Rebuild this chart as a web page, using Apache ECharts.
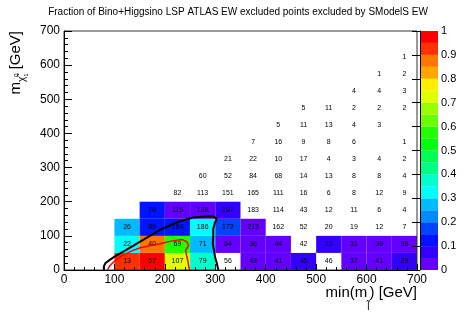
<!DOCTYPE html>
<html><head><meta charset="utf-8">
<script src="https://cdn.jsdelivr.net/npm/echarts@6/dist/echarts.min.js"></script>
<style>html,body{margin:0;padding:0;background:#fff}#c{width:463px;height:314px}</style>
</head><body><div id="c"></div>
<script>
// ---------------- data ----------------
const chartTitle = "Fraction of Bino+Higgsino LSP ATLAS EW excluded points excluded by SModelS EW";
const xBinLow = [100,150,200,250,300,350,400,450,500,550,600,650];
const yBinLow = [0,50,100,150,200,250,300,350,400,450,500,550,600];
const binWidth = 50;
const axisTicks = [0,100,200,300,400,500,600,700];
const zTicks = [0,0.1,0.2,0.3,0.4,0.5,0.6,0.7,0.8,0.9,1];
const zBandEdges = [0,0.05,0.1,0.15,0.2,0.25,0.3,0.35,0.4,0.45,0.5,0.55,0.6,0.65,0.7,0.75,0.8,0.85,0.9,0.95,1];
// number of points per cell (rows = y bins, cols = x bins)
const counts = [
  [13,57,107,79,56,43,41,45,46,37,41,29],
  [22,40,69,71,54,36,44,42,33,31,30,38],
  [26,80,164,186,172,213,162,52,20,19,12,7],
  [null,70,115,138,197,183,114,43,12,11,6,4],
  [null,null,82,113,151,165,111,16,6,8,12,9],
  [null,null,null,60,52,84,68,14,13,8,8,4],
  [null,null,null,null,21,22,10,17,4,3,4,2],
  [null,null,null,null,null,7,16,9,8,6,null,1],
  [null,null,null,null,null,null,5,11,13,4,3,null],
  [null,null,null,null,null,null,null,5,11,2,2,2],
  [null,null,null,null,null,null,null,null,null,4,4,3],
  [null,null,null,null,null,null,null,null,null,null,1,2],
  [null,null,null,null,null,null,null,null,null,null,null,1]
];
// excluded fraction per cell (0 = not drawn)
const fractions = [
  [0.92,0.97,0.72,0.37,0,0.03,0.03,0.07,0,0.03,0.03,0.07],
  [0.32,0.87,0.57,0.27,0.03,0.03,0.03,0,0.07,0.03,0.03,0.03],
  [0.27,0.12,0.12,0.32,0.17,0.03,0,0,0,0,0,0],
  [0,0.12,0.03,0.03,0.07,0,0,0,0,0,0,0]
];
const blackContour = [[79,0],[79,10],[82,20],[90,29],[101,40],[121,57],[151,83],[191,118],[230,143],[256,154],[280,157],[296,157],[303,150],[299,138],[296,120],[296,100],[295,77],[298,52],[300,35],[303,20],[306,0]];
const redContour = [[86,0],[91,13],[101,27],[115,42],[135,56],[151,65],[190,77],[217,86],[235,89],[244,82],[247,72],[241,57],[243,43],[246,25],[247,13],[249,0]];

// ---------------- style ----------------
const palette = ['#6300ff','#3300ff','#0014ff','#0044ff','#008bff','#00bbff','#00fffc','#00ffcc','#00ff85','#00ff55',
                 '#00ff0e','#22ff00','#69ff00','#99ff00','#e0ff00','#ffee00','#ffa700','#ff7700','#ff3000','#ff0000'];
const FONT = "'Liberation Sans', Arial, Helvetica, sans-serif";
function colorFor(v){ let i = Math.floor(v*20); if(i>19)i=19; if(i<0)i=0; return palette[i]; }

const cellData = [];
yBinLow.forEach((y,r)=>{ xBinLow.forEach((x,c)=>{
  const n = counts[r][c];
  const f = (fractions[r] && fractions[r][c]) || 0;
  if (n!=null || f>0) cellData.push([x,y,f,n==null?-1:n]);
});});
const bandData = palette.map((col,i)=>[zBandEdges[i], zBandEdges[i+1], i]);

const ctx = document.createElement('canvas').getContext('2d');
function tw(t,size){ ctx.font = size+'px '+FONT; return ctx.measureText(t).width; }

// x title pieces
const xt1 = 'min(m', xts = 'l\u0303', xt2 = ') [GeV]';
const xTitleRight = 417;
const wx1 = tw(xt1,15), wxs = tw(xts,10), wx2 = tw(xt2,15);
const xStart = xTitleRight - (wx1+wxs+wx2);
// y title pieces (rotated)
const yt1 = 'm', yts = '\u03C7\u0303', yt2 = ' [GeV]';
const wy1 = tw(yt1,15), wys = tw(yts,10), wyi = tw('0',6), wy2 = tw(yt2,15);
const yTotal = wy1+wys+wyi+wy2;

const chart = echarts.init(document.getElementById('c'));
chart.setOption({
  animation:false,
  backgroundColor:'#fff',
  grid:[
    {left:64, top:31, right:46, bottom:44, show:true, borderColor:'#333', borderWidth:1, backgroundColor:'transparent', z:10},
    {left:420, top:31, width:18, bottom:44, show:false}
  ],
  xAxis:[
    {type:'value', gridIndex:0, min:axisTicks[0], max:axisTicks[axisTicks.length-1], interval:100, z:10,
     axisLine:{show:true, lineStyle:{color:'#000'}},
     axisTick:{show:true, inside:true, length:6, lineStyle:{color:'#000'}},
     minorTick:{show:true, splitNumber:5, length:3, lineStyle:{color:'#000'}},
     splitLine:{show:false},
     axisLabel:{color:'#000', fontSize:12, fontFamily:FONT, margin:4}},
    {type:'value', gridIndex:1, min:0, max:1, show:false}
  ],
  yAxis:[
    {type:'value', gridIndex:0, min:axisTicks[0], max:axisTicks[axisTicks.length-1], interval:100, z:10,
     axisLine:{show:true, lineStyle:{color:'#000'}},
     axisTick:{show:true, inside:true, length:8, lineStyle:{color:'#000'}},
     minorTick:{show:true, splitNumber:5, length:4, lineStyle:{color:'#000'}},
     splitLine:{show:false},
     axisLabel:{color:'#000', fontSize:12, fontFamily:FONT, margin:4}},
    {type:'value', gridIndex:1, position:'right', min:zTicks[0], max:zTicks[zTicks.length-1], interval:0.1, z:10,
     axisLine:{show:true, lineStyle:{color:'#000'}},
     axisTick:{show:true, inside:true, length:8, lineStyle:{color:'#000'}},
     splitLine:{show:false},
     axisLabel:{color:'#000', fontSize:11, fontFamily:FONT, margin:3,
       formatter:v=> (Math.abs(v)<1e-9?'0':(Math.abs(v-1)<1e-9?'1':v.toFixed(1)))}}
  ],
  series:[
    {type:'custom', xAxisIndex:0, yAxisIndex:0, data:cellData, z:1, clip:true,
     renderItem:function(params, api){
       const x0=api.value(0), y0=api.value(1), f=api.value(2), n=api.value(3);
       const p0=api.coord([x0,y0]), p1=api.coord([x0+binWidth,y0+binWidth]);
       const ch=[];
       if (f>0) ch.push({type:'rect', shape:{x:p0[0], y:p1[1], width:p1[0]-p0[0], height:p0[1]-p1[1]}, style:{fill:colorFor(f), stroke:null}});
       if (n>=0) ch.push({type:'text', style:{text:String(n), x:(p0[0]+p1[0])/2, y:(p0[1]+p1[1])/2, align:'center', verticalAlign:'middle', fontSize:7, fontFamily:FONT, fill:'#000'}});
       return {type:'group', children:ch};
     }},
    {type:'line', xAxisIndex:0, yAxisIndex:0, data:blackContour, showSymbol:false, symbol:'none', z:5,
     lineStyle:{color:'#000', width:2}},
    {type:'line', xAxisIndex:0, yAxisIndex:0, data:redContour, showSymbol:false, symbol:'none', z:6,
     lineStyle:{color:'#ff0000', width:1.5}},
    {type:'custom', xAxisIndex:1, yAxisIndex:1, data:bandData, z:1,
     renderItem:function(params, api){
       const lo=api.value(0), hi=api.value(1), i=api.value(2);
       const a=api.coord([0,lo]), b=api.coord([1,hi]);
       return {type:'rect', shape:{x:a[0], y:b[1], width:b[0]-a[0], height:a[1]-b[1]}, style:{fill:palette[i]}};
     }}
  ],
  graphic:[
    {type:'text', x:238, y:12, style:{text:chartTitle, align:'center', verticalAlign:'middle', fontSize:10, fontFamily:FONT, fill:'#000'}},
    {type:'group', children:[
      {type:'text', x:xStart, y:293, style:{text:xt1, align:'left', verticalAlign:'middle', fontSize:15, fontFamily:FONT, fill:'#000'}},
      {type:'text', x:xStart+wx1, y:307, style:{text:xts, align:'left', verticalAlign:'middle', fontSize:10, fontFamily:FONT, fill:'#000'}},
      {type:'text', x:xStart+wx1+wxs, y:293, style:{text:xt2, align:'left', verticalAlign:'middle', fontSize:15, fontFamily:FONT, fill:'#000'}}
    ]},
    {type:'group', x:16, y:31+yTotal, rotation:Math.PI/2, children:[
      {type:'text', x:0, y:0, style:{text:yt1, align:'left', verticalAlign:'middle', fontSize:15, fontFamily:FONT, fill:'#000'}},
      {type:'text', x:wy1, y:6, style:{text:yts, align:'left', verticalAlign:'middle', fontSize:10, fontFamily:FONT, fill:'#000'}},
      {type:'text', x:wy1+wys, y:0, style:{text:'0', align:'left', verticalAlign:'middle', fontSize:6, fontFamily:FONT, fill:'#000'}},
      {type:'text', x:wy1+wys, y:10, style:{text:'1', align:'left', verticalAlign:'middle', fontSize:6, fontFamily:FONT, fill:'#000'}},
      {type:'text', x:wy1+wys+wyi, y:0, style:{text:yt2, align:'left', verticalAlign:'middle', fontSize:15, fontFamily:FONT, fill:'#000'}}
    ]}
  ]
});
</script></body></html>
